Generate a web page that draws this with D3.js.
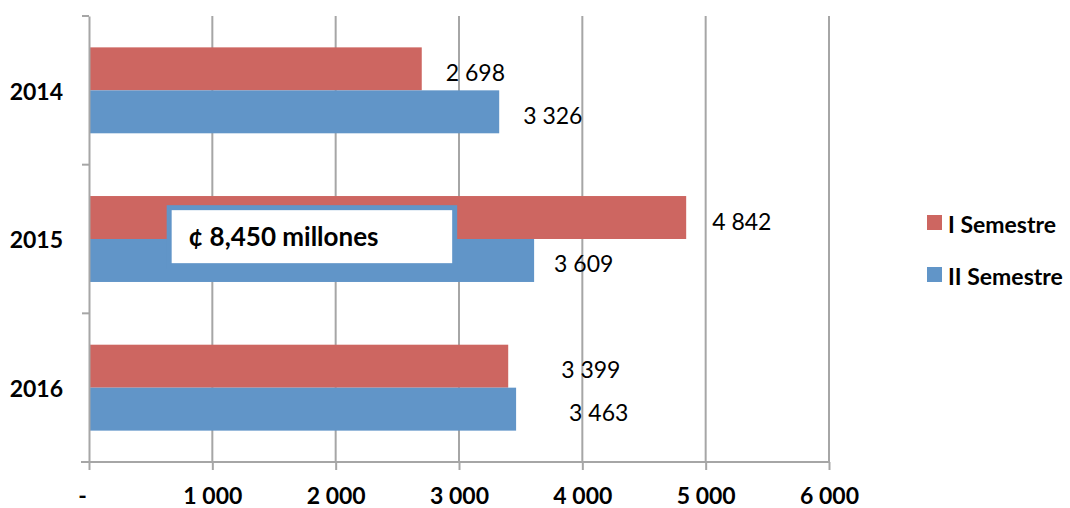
<!DOCTYPE html>
<html>
<head>
<meta charset="utf-8">
<script src="https://cdn.jsdelivr.net/npm/d3@7"></script>
<style>
  body { margin: 0; background: #fff; }
  text { font-family: Lato, "Open Sans", sans-serif; }
</style>
</head>
<body>
<div id="chart"></div>
<script>
// data
const years = ["2014", "2015", "2016"];
const series = ["I Semestre", "II Semestre"];
const semestre1 = [2698, 4842, 3399];
const semestre2 = [3326, 3609, 3463];
const xTicks = [0, 1000, 2000, 3000, 4000, 5000, 6000];
const noteText = "¢ 8,450 millones";

// label nudges (px to the right of the bar end), as placed in the original
const labelNudge1 = [24, 26, 53];
const labelNudge2 = [24, 20, 53];

let width = 1070;
let height = 508;
let margin = { top: 16, bottom: 46, left: 89, right: 241 };

let svg = d3.select('#chart')
  .append('svg')
  .attr('width', width)
  .attr('height', height);

const color = d3.scaleOrdinal()
  .domain(series)
  .range(["#CD6661", "#6195C8"]);

let xScale = d3.scaleLinear()
  .domain([0, 6000])
  .range([margin.left, width - margin.right]);

let yScale = d3.scaleBand()
  .domain(years)
  .range([margin.top, height - margin.bottom]);

let inner = d3.scaleBand()
  .domain(series)
  .range([0, yScale.bandwidth()])
  .paddingOuter(0.73);

const grey = "#A6A6A6";

// gridlines
svg.append('g')
  .selectAll('line')
  .data(xTicks.slice(1))
  .enter()
  .append('line')
  .attr('x1', d => xScale(d))
  .attr('x2', d => xScale(d))
  .attr('y1', margin.top)
  .attr('y2', height - margin.bottom)
  .attr('stroke', grey)
  .attr('stroke-width', 2);

// bars
const rows = years.map((y, i) => ({
  year: y,
  values: [
    { s: series[0], v: semestre1[i], nudge: labelNudge1[i] },
    { s: series[1], v: semestre2[i], nudge: labelNudge2[i] }
  ]
}));

const groups = svg.selectAll('.yr')
  .data(rows)
  .enter()
  .append('g')
  .attr('transform', d => `translate(0,${yScale(d.year)})`);

groups.selectAll('rect')
  .data(d => d.values)
  .enter()
  .append('rect')
  .attr('x', xScale(0))
  .attr('y', d => inner(d.s))
  .attr('width', d => xScale(d.v) - xScale(0))
  .attr('height', inner.bandwidth())
  .attr('fill', d => color(d.s));

groups.selectAll('text.lbl')
  .data(d => d.values)
  .enter()
  .append('text')
  .attr('class', 'lbl')
  .attr('x', d => xScale(d.v) + d.nudge)
  .attr('y', d => inner(d.s) + inner.bandwidth() / 2 + 3)
  .attr('dominant-baseline', 'central')
  .style('font-size', '23px')
  .style('fill', '#000')
  .text(d => d3.format(",")(d.v).replace(",", " "));

// axes
let xAxis = svg.append('g')
  .attr('transform', `translate(0,${height - margin.bottom})`)
  .call(d3.axisBottom(xScale)
    .tickValues(xTicks)
    .tickSize(8)
    .tickSizeOuter(0)
    .tickFormat(d => d === 0 ? "-" : d3.format(",")(d).replace(",", " ")));
xAxis.select('.domain').attr('stroke', grey).attr('stroke-width', 2)
  .attr('d', `M${margin.left - 8},0H${width - margin.right}`);
xAxis.selectAll('.tick line').attr('stroke', grey).attr('stroke-width', 2);
xAxis.selectAll('.tick text')
  .attr('y', 34)
  .attr('dy', '0.35em')
  .style('font-size', '23px')
  .style('font-weight', 'bold')
  .style('font-family', 'Lato, sans-serif')
  .attr('fill', '#000');
xAxis.selectAll('.tick text').filter(d => d === 0).attr('dx', -7);

let yAxis = svg.append('g')
  .attr('transform', `translate(${margin.left},0)`)
  .call(d3.axisLeft(yScale).tickSize(0).tickSizeOuter(0));
yAxis.select('.domain').attr('stroke', grey).attr('stroke-width', 2);
yAxis.selectAll('.tick text')
  .attr('x', -26)
  .attr('dy', '0.4em')
  .style('font-size', '23px')
  .style('font-weight', 'bold')
  .style('font-family', 'Lato, sans-serif')
  .attr('fill', '#000');

// band boundary ticks on the category axis
svg.append('g')
  .selectAll('line')
  .data(years.map(y => yScale(y)).concat([height - margin.bottom]))
  .enter()
  .append('line')
  .attr('x1', margin.left - 7)
  .attr('x2', margin.left)
  .attr('y1', d => d)
  .attr('y2', d => d)
  .attr('stroke', grey)
  .attr('stroke-width', 2);

// note box over the 2015 bars
const boxX = xScale(650), boxW = xScale(2965) - boxX;
const boxY = yScale("2015") + 43;
svg.append('rect')
  .attr('x', boxX)
  .attr('y', boxY)
  .attr('width', boxW)
  .attr('height', 58)
  .attr('fill', '#fff')
  .attr('stroke', "#6195C8")
  .attr('stroke-width', 5);
svg.append('text')
  .attr('x', boxX + 19)
  .attr('y', boxY + 38)
  .style('font-size', '26px')
  .style('font-weight', 'bold')
  .text(noteText);

// legend
const legend = svg.append('g')
  .attr('transform', `translate(927, 215)`);
series.forEach((s, i) => {
  legend.append('rect')
    .attr('x', 0)
    .attr('y', i * 52)
    .attr('width', 15)
    .attr('height', 15)
    .attr('fill', color(s));
  legend.append('text')
    .attr('x', 21)
    .attr('y', i * 52 + 9)
    .attr('dominant-baseline', 'central')
    .style('font-size', '23px')
    .style('font-weight', 'bold')
    .text(s);
});
</script>
</body>
</html>
